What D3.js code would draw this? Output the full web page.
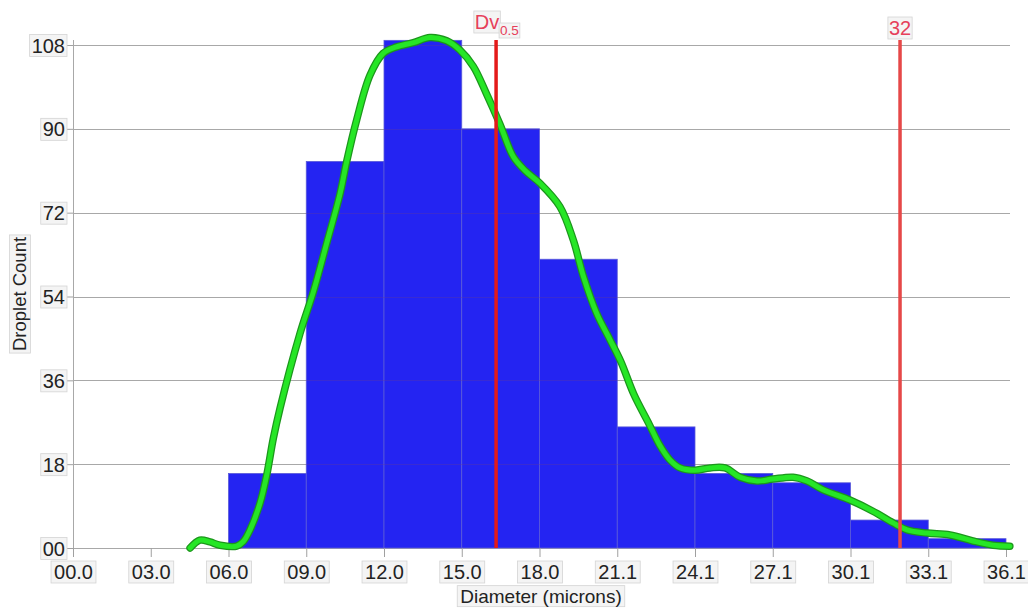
<!DOCTYPE html>
<html>
<head>
<meta charset="utf-8">
<script src="https://cdn.jsdelivr.net/npm/d3@7"></script>
<style>
  html, body { margin: 0; padding: 0; background: #fff; }
  svg { display: block; font-family: "Liberation Sans", Arial, Helvetica, sans-serif; }
</style>
</head>
<body>
<svg id="chart" width="1028" height="608"></svg>
<script>
// ---------- data ----------
const xMax = 36.1;
const binCount = 12;
const binCounts = [0, 0, 16, 83, 109, 90, 62, 26, 16, 14, 6, 2];
const yTicks = [0, 18, 36, 54, 72, 90, 108];
const yTickLabels = ["00", "18", "36", "54", "72", "90", "108"];
const xTickLabels = ["00.0", "03.0", "06.0", "09.0", "12.0", "15.0", "18.0", "21.1", "24.1", "27.1", "30.1", "33.1", "36.1"];
const curveX = [4.53, 4.91, 5.3, 5.69, 6.33, 6.59, 6.85, 7.24, 7.49, 7.75, 8.01, 8.78, 9.3, 9.82, 10.33, 10.59, 10.98, 11.49, 12.0, 12.52, 13.17, 13.81, 14.46, 14.97, 15.49, 16.0, 16.52, 17.04, 17.5, 18.07, 18.84, 19.36, 19.75, 20.26, 20.78, 21.2, 21.7, 22.3, 22.71, 23.1, 23.49, 24.07, 24.65, 25.23, 25.81, 26.47, 27.08, 27.86, 28.4, 29.02, 30.06, 30.95, 31.73, 32.27, 33.04, 33.93, 34.82, 35.6, 36.25];
const curveY = [0.0, 1.7, 1.3, 0.6, 0.4, 1.4, 3.9, 9.7, 15.5, 23.5, 30, 46, 55, 65.5, 76, 83, 92, 101.5, 106.2, 107.6, 108.5, 109.6, 108.9, 106.9, 103.4, 97.5, 91, 84, 81, 78.3, 73.3, 66.1, 58.3, 50.4, 44.7, 40, 33, 26.5, 22, 18.9, 17.2, 16.7, 17.2, 17.2, 15.2, 14.4, 14.8, 15.2, 14.4, 12.5, 10.3, 7.9, 5.4, 3.9, 3.2, 2.8, 1.5, 0.6, 0.4];
const markerValues = [16.37, 32.0];
const markerLabels = ["Dv", "32"];
const markerSubs = ["0.5", ""];
const xTitle = "Diameter (microns)";
const yTitle = "Droplet Count";

// ---------- layout ----------
const svg = d3.select("#chart");
const L = 73, R = 1006, T = 45, B = 548;
const gridRight = 1010;
const x = d3.scaleLinear().domain([0, xMax]).range([L, R]);
const y = d3.scaleLinear().domain([0, 108]).range([B, T]);
const binW = xMax / binCount;
const xTicks = xTickLabels.map((_, i) => i * binW);

function boxed(sel, pad) {
  sel.each(function() {
    const bb = this.getBBox();
    d3.select(this.parentNode).insert("rect", () => this)
      .attr("x", bb.x - pad).attr("y", bb.y)
      .attr("width", bb.width + 2 * pad).attr("height", bb.height)
      .attr("fill", "#f4f4f4").attr("stroke", "#d4d4d4").attr("stroke-width", 0.8);
  });
}

// gridlines (under bars)
svg.append("g").selectAll("line").data(yTicks).join("line")
  .attr("x1", L).attr("x2", gridRight)
  .attr("y1", d => Math.round(y(d)) + 0.5).attr("y2", d => Math.round(y(d)) + 0.5)
  .attr("stroke", "#a8a8a8").attr("stroke-width", 1);

// bars
const bars = binCounts.map((c, i) => ({x0: i * binW, x1: (i + 1) * binW, c})).filter(d => d.c > 0);
const clip = svg.append("defs").append("clipPath").attr("id", "barclip");
clip.selectAll("rect").data(bars).join("rect")
  .attr("x", d => x(d.x0)).attr("width", d => x(d.x1) - x(d.x0))
  .attr("y", d => y(d.c)).attr("height", d => y(0) - y(d.c));

svg.append("g").selectAll("rect").data(bars).join("rect")
  .attr("x", d => x(d.x0)).attr("width", d => x(d.x1) - x(d.x0))
  .attr("y", d => y(d.c)).attr("height", d => y(0) - y(d.c))
  .attr("fill", "#2424f2").attr("stroke", "#5a5ad8").attr("stroke-width", 0.8);

// faint gridlines visible through bars
svg.append("g").attr("clip-path", "url(#barclip)")
  .selectAll("line").data(yTicks.slice(1)).join("line")
  .attr("x1", L).attr("x2", gridRight)
  .attr("y1", d => Math.round(y(d)) + 0.5).attr("y2", d => Math.round(y(d)) + 0.5)
  .attr("stroke", "#6a3a8a").attr("stroke-opacity", 0.3).attr("stroke-width", 1);

// y axis line
svg.append("line").attr("x1", L + 0.5).attr("x2", L + 0.5).attr("y1", 40).attr("y2", 557)
  .attr("stroke", "#a8a8a8").attr("stroke-width", 1);

// x axis
const xAxis = svg.append("g").attr("transform", `translate(0,${B})`)
  .call(d3.axisBottom(x).tickValues(xTicks).tickFormat((d, i) => xTickLabels[i]).tickSize(9).tickSizeOuter(0));
xAxis.select(".domain").remove();
xAxis.selectAll(".tick line").attr("stroke", "#a0a0a0");
xAxis.selectAll(".tick text")
  .attr("y", 24).attr("dy", "0.35em")
  .attr("font-size", 20).attr("fill", "#222")
  .attr("font-family", '"Liberation Sans", Arial, sans-serif');
xAxis.selectAll(".tick text").call(boxed, 3);

// y axis
const yAxis = svg.append("g").attr("transform", `translate(${L},0)`)
  .call(d3.axisLeft(y).tickValues(yTicks).tickFormat((d, i) => yTickLabels[i]).tickSize(6).tickSizeOuter(0));
yAxis.select(".domain").remove();
yAxis.selectAll(".tick line").attr("stroke", "#a0a0a0");
yAxis.selectAll(".tick text")
  .attr("x", -8).attr("dy", "0.35em")
  .attr("font-size", 20).attr("fill", "#222")
  .attr("font-family", '"Liberation Sans", Arial, sans-serif');
yAxis.selectAll(".tick text").call(boxed, 2);

// axis titles
const xt = svg.append("g");
xt.append("text").attr("x", 541).attr("y", 596).attr("dy", "0.35em")
  .attr("text-anchor", "middle").attr("font-size", 19).attr("fill", "#222").text(xTitle);
xt.selectAll("text").call(boxed, 3);

const yt = svg.append("g").attr("transform", "translate(20,294) rotate(-90)");
yt.append("text").attr("x", 0).attr("y", 0).attr("dy", "0.35em")
  .attr("text-anchor", "middle").attr("font-size", 18.5).attr("fill", "#222").text(yTitle);
yt.selectAll("text").call(boxed, 2);

// density curve
const pts = curveX.map((v, i) => [v, curveY[i]]);
const line = d3.line().x(d => x(d[0])).y(d => y(d[1])).curve(d3.curveCatmullRom.alpha(0.5));
svg.append("path").attr("d", line(pts)).attr("fill", "none")
  .attr("stroke", "#1c961c").attr("stroke-width", 7.5).attr("stroke-linecap", "round").attr("stroke-linejoin", "round");
svg.append("path").attr("d", line(pts)).attr("fill", "none")
  .attr("stroke", "#26e626").attr("stroke-width", 5).attr("stroke-linecap", "round").attr("stroke-linejoin", "round");

// marker lines
const markerColors = ["#e41a1a", "#e64848"];
markerValues.forEach((v, i) => {
  svg.append("line").attr("x1", x(v)).attr("x2", x(v)).attr("y1", 40).attr("y2", B)
    .attr("stroke", markerColors[i]).attr("stroke-width", 3.5);
});

// marker labels
const lab = svg.append("g");
markerValues.forEach((v, i) => {
  const g = lab.append("g");
  if (markerSubs[i]) {
    const t = g.append("text").attr("x", x(v) - 9).attr("y", 22).attr("dy", "0.35em")
      .attr("text-anchor", "middle").attr("font-size", 20).attr("fill", "#e6405a").text(markerLabels[i]);
    t.call(boxed, 1);
    const s = g.append("text").attr("x", x(v) + 4).attr("y", 35)
      .attr("text-anchor", "start").attr("font-size", 13.5).attr("fill", "#e6405a").text(markerSubs[i]);
    s.call(boxed, 1);
  } else {
    const t = g.append("text").attr("x", x(v)).attr("y", 28).attr("dy", "0.35em")
      .attr("text-anchor", "middle").attr("font-size", 20).attr("fill", "#e6405a").text(markerLabels[i]);
    t.call(boxed, 1);
  }
});
</script>
</body>
</html>
